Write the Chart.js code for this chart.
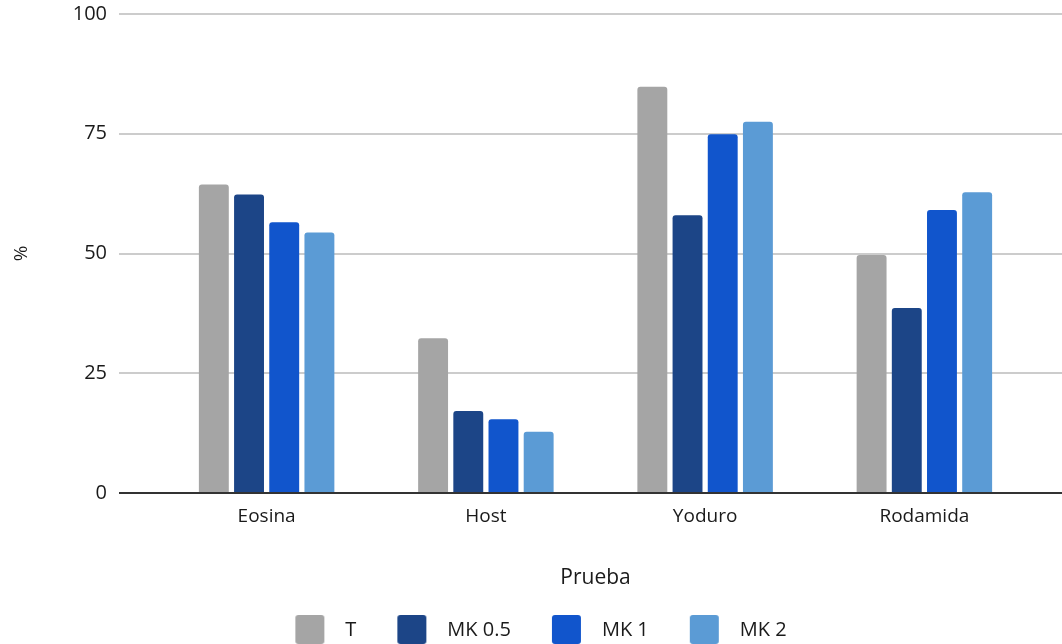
<!DOCTYPE html>
<html>
<head>
<meta charset="utf-8">
<script src="https://cdn.jsdelivr.net/npm/chart.js@4.4.1/dist/chart.umd.min.js"></script>
<style>
html, body { margin: 0; padding: 0; background: #fff; overflow: hidden; }
#wrap { position: relative; width: 1062px; height: 650px; }
</style>
</head>
<body>
<div id="wrap"><canvas id="grafica"></canvas></div>
<script>
// Datos
const categorias = ['Eosina', 'Host', 'Yoduro', 'Rodamida'];
const serieT = [64.4, 32.3, 84.8, 49.7];
const serieMK05 = [62.3, 17.1, 58.0, 38.6];
const serieMK1 = [56.5, 15.4, 74.9, 59.1];
const serieMK2 = [54.4, 12.8, 77.5, 62.8];
const ticksY = [0, 25, 50, 75, 100];
const nombres = ['T', 'MK 0.5', 'MK 1', 'MK 2'];
const colores = ['#a5a5a5', '#1c4587', '#1155cc', '#5b9bd5'];

Chart.defaults.font.family = "'Open Sans', sans-serif";
Chart.defaults.color = '#1a1a1a';

function colorGrid(ctx) {
    return ctx.tick && ctx.tick.value === 0 ? '#333333' : '#cccccc';
}

function ponerTicks(scale) {
    scale.ticks = ticksY.map(v => ({ value: v }));
}

// cuadro de la leyenda, con hueco a cada lado
function muestra(color) {
    const c = document.createElement('canvas');
    c.width = 60;
    c.height = 30;
    const g = c.getContext('2d');
    g.fillStyle = color;
    g.beginPath();
    g.roundRect(20, 0, 29, 29, 3);
    g.fill();
    return c;
}

const series = [serieT, serieMK05, serieMK1, serieMK2];

const ctx = document.getElementById('grafica').getContext('2d');
new Chart(ctx, {
    type: 'bar',
    data: {
        labels: categorias,
        datasets: series.map((s, i) => ({
            label: nombres[i],
            data: s,
            backgroundColor: colores[i],
            borderRadius: 3,
            categoryPercentage: 0.642,
            barPercentage: 0.85
        }))
    },
    options: {
        responsive: true,
        maintainAspectRatio: false,
        animation: false,
        layout: { padding: 0 },
        plugins: {
            tooltip: { enabled: false },
            legend: {
                position: 'bottom',
                labels: {
                    usePointStyle: true,
                    pointStyleWidth: 60,
                    padding: 21,
                    font: { size: 20 },
                    generateLabels: function(chart) {
                        const items = Chart.defaults.plugins.legend.labels.generateLabels(chart);
                        items.forEach((it, i) => { it.pointStyle = muestra(colores[i]); });
                        return items;
                    }
                }
            }
        },
        scales: {
            x: {
                grid: { display: false, drawTicks: false },
                border: { display: false },
                ticks: { font: { size: 19 }, padding: 12 },
                title: {
                    display: true,
                    text: 'Prueba',
                    font: { size: 21 },
                    padding: { top: 0, bottom: 8 }
                },
                afterFit: s => { s.height = 106; }
            },
            y: {
                min: 0,
                max: 100,
                afterBuildTicks: ponerTicks,
                grid: { color: colorGrid, tickColor: colorGrid, lineWidth: 2, tickLength: 38 },
                border: { display: false },
                ticks: { font: { size: 20 }, padding: 12 },
                title: {
                    display: true,
                    text: '%',
                    font: { size: 19 },
                    padding: { top: 10, bottom: 0 }
                },
                afterFit: s => {
                    s.width = 157;
                    s.paddingTop = 14;
                }
            },
            y2: {
                position: 'right',
                min: 0,
                max: 100,
                afterBuildTicks: ponerTicks,
                grid: { drawOnChartArea: false, color: colorGrid, tickColor: colorGrid, lineWidth: 2, tickLength: 28 },
                border: { display: false },
                ticks: { display: false },
                afterFit: s => { s.width = 28; }
            }
        }
    }
});
</script>
</body>
</html>
